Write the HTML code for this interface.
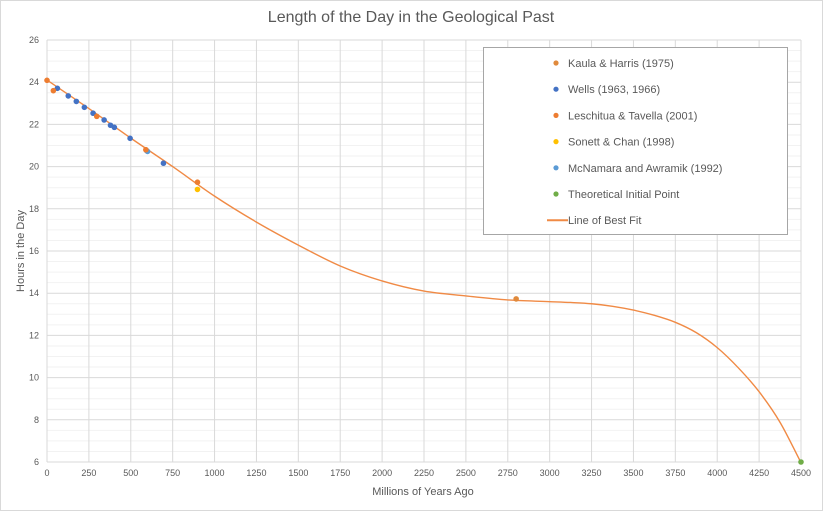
<!DOCTYPE html>
<html><head><meta charset="utf-8"><style>
body{margin:0;background:#fff}
svg{display:block;font-family:"Liberation Sans",sans-serif}
</style></head><body>
<svg id="chart" width="823" height="511">
<rect x="0.5" y="0.5" width="822" height="510" fill="#fff" stroke="#d9d9d9"/>
<text x="411" y="22" text-anchor="middle" font-size="16" fill="#595959">Length of the Day in the Geological Past</text>
<g id="grid"></g><g id="axes"></g><g id="series"></g>
<text x="423" y="495" text-anchor="middle" font-size="11" fill="#595959">Millions of Years Ago</text>
<text transform="translate(24,251) rotate(-90)" text-anchor="middle" font-size="11" fill="#595959">Hours in the Day</text>
<g id="legend"></g>
</svg>
<script>
const kaulaX=[2800], kaulaY=[13.73];
const wellsX=[62,127,175,223,275,341,379,402,496,594,695];
const wellsY=[23.71,23.35,23.09,22.81,22.53,22.21,21.96,21.86,21.34,20.76,20.16];
const leschX=[0,38,297,590,898], leschY=[24.09,23.6,22.38,20.8,19.26];
const sonettX=[898], sonettY=[18.92];
const mcnX=[600], mcnY=[20.72];
const initX=[4500], initY=[6];
const fitX=[0,250,500,750,1000,1250,1500,1750,2000,2250,2500,2750,3000,3125,3250,3375,3500,3625,3750,3875,4000,4125,4250,4375,4500];
const fitY=[24.1,22.75,21.35,20.0,18.6,17.37,16.28,15.29,14.58,14.1,13.87,13.68,13.6,13.56,13.5,13.38,13.2,12.95,12.62,12.13,11.42,10.47,9.33,7.88,5.97];
const xTicks=[0,250,500,750,1000,1250,1500,1750,2000,2250,2500,2750,3000,3250,3500,3750,4000,4250,4500];
const yTicks=[6,8,10,12,14,16,18,20,22,24,26];
const X0=47,X1=801,Y0=462,Y1=40;
const sx=v=>X0+v/4500*(X1-X0), sy=v=>Y0-(v-6)/20*(Y0-Y1);
const NS="http://www.w3.org/2000/svg";
function mk(t,a,p){const e=document.createElementNS(NS,t);for(const k in a)e.setAttribute(k,a[k]);p.appendChild(e);return e;}
const grid=document.getElementById('grid'),axes=document.getElementById('axes'),ser=document.getElementById('series'),leg=document.getElementById('legend');
for(let v=6.5;v<26;v+=0.5){if(v%2===0)continue;const l=mk('line',{x1:X0,x2:X1,y1:sy(v),y2:sy(v),stroke:'#f2f2f2'},grid);

}
yTicks.forEach(v=>{const l=mk('line',{x1:X0,x2:X1,y1:sy(v),y2:sy(v),stroke:'#d9d9d9'},grid);


const t=mk('text',{x:X0-8,y:sy(v)+3,'text-anchor':'end','font-size':'9',fill:'#595959'},axes);t.textContent=v;

});
xTicks.forEach(v=>{const l=mk('line',{x1:sx(v),x2:sx(v),y1:Y1,y2:Y0,stroke:'#d9d9d9'},grid);


const t=mk('text',{x:sx(v),y:Y0+14,'text-anchor':'middle','font-size':'9',fill:'#595959'},axes);t.textContent=v;

});
const P=fitX.map((x,i)=>[sx(x),sy(fitY[i])]);
let d='M'+P[0][0]+','+P[0][1];
for(let i=0;i<P.length-1;i++){const p0=P[Math.max(0,i-1)],p1=P[i],p2=P[i+1],p3=P[Math.min(P.length-1,i+2)];
const h=p2[0]-p1[0];
const m1=(p2[1]-p0[1])/(p2[0]-p0[0]||1), m2=(p3[1]-p1[1])/(p3[0]-p1[0]||1);
d+=' C'+(p1[0]+h/3)+','+(p1[1]+m1*h/3)+' '+(p2[0]-h/3)+','+(p2[1]-m2*h/3)+' '+p2[0]+','+p2[1];}
const fl=mk('path',{d:d,fill:'none',stroke:'#f08a45','stroke-width':'1.4'},ser);


function pts(xs,ys,c,name){xs.forEach((x,i)=>{const e=mk('circle',{cx:sx(x),cy:sy(ys[i]),r:2.8,fill:c},ser);

});}
pts(wellsX,wellsY,'#4472c4','wells-point');
pts(mcnX,mcnY,'#5b9bd5','mcnamara-point');
pts(leschX,leschY,'#ed7d31','leschitua-point');
pts(sonettX,sonettY,'#ffc000','sonett-point');
pts(kaulaX,kaulaY,'#e08a3c','kaula-point');
pts(initX,initY,'#70ad47','initial-point');
mk('rect',{x:483.5,y:47.5,width:304,height:187,fill:'#fff',stroke:'#a6a6a6'},leg);
const names=['Kaula & Harris (1975)','Wells (1963, 1966)','Leschitua & Tavella (2001)','Sonett & Chan (1998)','McNamara and Awramik (1992)','Theoretical Initial Point','Line of Best Fit'];
const cols=['#e08a3c','#4472c4','#ed7d31','#ffc000','#5b9bd5','#70ad47','#f08a45'];
names.forEach((n,i)=>{const y=63+i*26.2;
if(i<6){const c=mk('circle',{cx:556,cy:y,r:2.6,fill:cols[i]},leg);

}
else{const l=mk('line',{x1:547,x2:568,y1:y,y2:y,stroke:cols[i],'stroke-width':'2'},leg);

}
const t=mk('text',{x:568,y:y+4,'font-size':'11',fill:'#595959'},leg);t.textContent=n;

});
</script>
</body></html>
